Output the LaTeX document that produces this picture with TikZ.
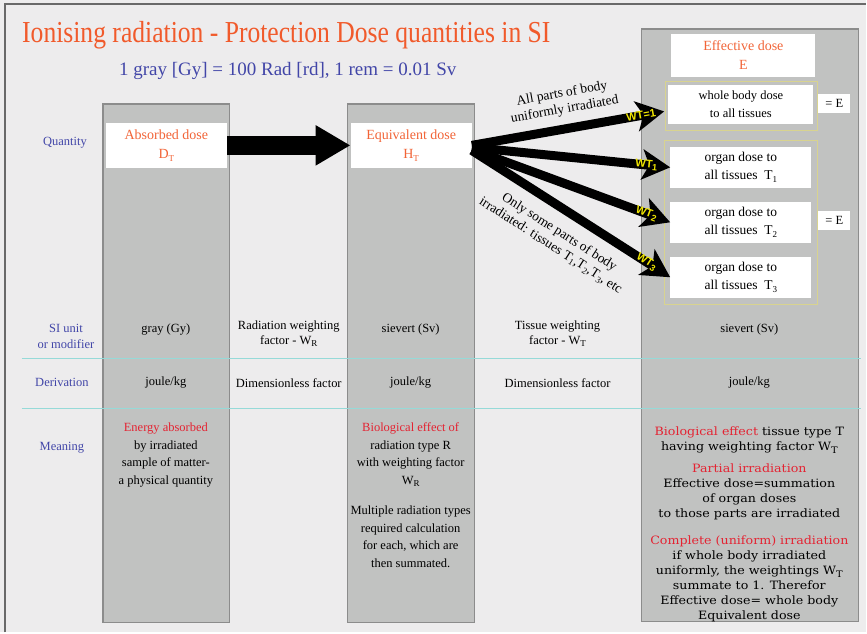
\documentclass[tikz,border=0pt]{standalone}
\usepackage{fontspec}
\setmainfont{Liberation Serif}
\newfontfamily\titlefont{Liberation Serif}[FakeStretch=0.84]
\newfontfamily\widefont{DejaVu Serif}[FakeStretch=1.1]
\newfontfamily\wtfont{Liberation Sans}
\usepackage{xcolor}
\usetikzlibrary{arrows.meta, positioning, calc}

\definecolor{pagebg}{RGB}{237,236,237}
\definecolor{framegray}{RGB}{105,105,105}
\definecolor{colfill}{RGB}{193,194,193}
\definecolor{colline}{RGB}{140,140,140}
\definecolor{titleorange}{RGB}{241,90,43}
\definecolor{boxorange}{RGB}{242,100,55}
\definecolor{labelblue}{RGB}{66,70,168}
\definecolor{textred}{RGB}{228,35,50}
\definecolor{rulecyan}{RGB}{150,218,216}
\definecolor{frameyellow}{RGB}{216,211,143}
\definecolor{wtyellow}{RGB}{240,230,0}

\newcommand{\lowsub}[1]{\raisebox{-0.45ex}{\small #1}}

\begin{document}
\begin{tikzpicture}[x=1pt,y=-1pt,
	column/.style={draw=colline,fill=colfill,line width=1.2pt},
	qbox/.style={rectangle,fill=white,align=center,inner sep=0pt,minimum width=121pt,
		minimum height=45pt,text=boxorange,font=\fontsize{14}{19}\selectfont},
	obox/.style={rectangle,fill=white,align=center,inner sep=0pt,minimum width=141pt,
		minimum height=41pt,font=\fontsize{13.5}{18}\selectfont},
	eqbox/.style={rectangle,fill=white,inner sep=0pt,minimum width=32pt,
		minimum height=19pt,font=\fontsize{12.5}{14}\selectfont},
	yframe/.style={draw=frameyellow,line width=1pt},
	rowlabel/.style={align=center,text=labelblue,font=\fontsize{12.5}{16}\selectfont},
	cell/.style={align=center,font=\fontsize{12.5}{15}\selectfont},
	meaning/.style={align=center,anchor=north,font=\fontsize{12.5}{17.5}\selectfont},
	bigarrow/.style={line width=19pt,-{Triangle[length=35pt,width=38pt]}},
	fanarrow/.style={line width=9pt,-{Stealth[length=28pt,width=30pt,inset=7pt]}},
	fanlabel/.style={sloped,align=center,font=\fontsize{13.5}{16}\selectfont},
	wt/.style={pos=0.88,sloped,text=wtyellow,inner sep=0pt,
		font=\wtfont\bfseries\fontsize{11}{11}\selectfont},
	]
	% page and frame
	\fill[pagebg] (0,0) rectangle (867,633);
	\draw[framegray,line width=1.5pt] (5,633) -- (5,4) -- (867,4);
	
	% headings
	\node[anchor=base west,inner sep=0pt,text=titleorange,font=\titlefont\fontsize{30.5}{32}\selectfont]
	(title) at (22,43) {Ionising radiation - Protection Dose quantities in SI};
	\node[anchor=base,inner sep=0pt,text=labelblue,font=\fontsize{19}{21}\selectfont]
	(units) at (288,76) {1 gray [Gy] = 100 Rad [rd], 1 rem = 0.01 Sv};
	
	% columns
	\draw[column] (103,104) rectangle (230,623);
	\draw[column] (348,104) rectangle (475,623);
	\draw[column] (642,29) rectangle (859,622);
	
	% row labels
	\node[rowlabel] (quantity) at (65,143) {Quantity};
	\node[rowlabel] (siunit) at (66,337) {SI unit\\or modifier};
	\node[rowlabel] (derivation) at (62,383) {Derivation};
	\node[rowlabel] (meaningrow) at (62,448) {Meaning};
	
	% quantity boxes
	\node[qbox] (absorbed) at (166.5,145.5) {Absorbed dose\\D\lowsub{T}};
	\node[qbox] (equivalent) at (411.5,145.5) {Equivalent dose\\H\lowsub{T}};
	\node[qbox,minimum width=144pt,minimum height=43pt] (effective) at (744,55.5) {Effective dose\\E};
	
	% tissue boxes
	\draw[yframe] (666,82) rectangle (818,131);
	\draw[yframe] (665,141) rectangle (818,305);
	\node[obox,minimum width=145pt,minimum height=39pt,font=\fontsize{12.5}{18}\selectfont]
	(wholebody) at (741.5,104.5) {whole body dose\\to all tissues};
	\node[obox] (organA) at (741.5,167.5) {organ dose to\\all tissues\enspace T\lowsub{1}};
	\node[obox] (organB) at (741.5,222.5) {organ dose to\\all tissues\enspace T\lowsub{2}};
	\node[obox] (organC) at (741.5,277.5) {organ dose to\\all tissues\enspace T\lowsub{3}};
	\node[eqbox] (eqA) at (835,104) {= E};
	\node[eqbox] (eqB) at (835,221) {= E};
	
	% separating rules
	\draw[rulecyan,line width=1.5pt] (22,359) -- (862,359);
	\draw[rulecyan,line width=1.5pt] (22,409) -- (862,409);
	
	% SI unit row
	\node[cell] (siA) at (166,330) {gray (Gy)};
	\node[cell] (siR) at (289,334) {Radiation weighting\\factor - W\lowsub{R}};
	\node[cell] (siB) at (411,330) {sievert (Sv)};
	\node[cell] (siT) at (558,334) {Tissue weighting\\factor - W\lowsub{T}};
	\node[cell] (siC) at (750,330) {sievert (Sv)};
	
	% derivation row
	\node[cell] (dA) at (166,383) {joule/kg};
	\node[cell] (dR) at (289,383) {Dimensionless factor};
	\node[cell] (dB) at (411,383) {joule/kg};
	\node[cell] (dT) at (558,383) {Dimensionless factor};
	\node[cell] (dC) at (750,383) {joule/kg};
	
	% meaning row
	\node[meaning] (mA) at (166,420)
	{{\color{textred}Energy absorbed}\\by irradiated\\sample of matter-\\a physical quantity};
	\node[meaning] (mB) at (411,420)
	{{\color{textred}Biological effect of}\\radiation type R\\with weighting factor\\W\lowsub{R}\\[13pt]
		Multiple radiation types\\required calculation\\for each, which are\\then summated.};
	\node[meaning,font=\widefont\fontsize{11.5}{15}\selectfont] (mC) at (750,424)
	{{\color{textred}Biological effect} tissue type T\\having weighting factor W\lowsub{T}\\[7pt]
		{\color{textred}Partial irradiation}\\Effective dose=summation\\of organ doses\\to those parts are irradiated\\[12pt]
		{\color{textred}Complete (uniform) irradiation}\\if whole body irradiated\\uniformly, the weightings W\lowsub{T}\\
		summate to 1. Therefor\\Effective dose= whole body\\Equivalent dose};
	
	% arrows
	\draw[bigarrow] (absorbed) -- (equivalent);
	\draw[fanarrow] (equivalent.east) -- node[fanlabel,above=5pt] {All parts of body\\uniformly irradiated}
	node[wt] {WT=1} ([xshift=-4pt,yshift=-7pt]wholebody.west);
	\draw[fanarrow] ([yshift=-2pt]equivalent.east) -- node[wt] {WT\lowsub{1}} (organA.west);
	\draw[fanarrow] ([yshift=-4pt]equivalent.east) -- node[wt] {WT\lowsub{2}} (organB.west);
	\draw[fanarrow] ([yshift=-5pt]equivalent.east) -- node[fanlabel,below=8pt]
	{Only some parts of body\\irradiated: tissues T\lowsub{1},T\lowsub{2},T\lowsub{3}, etc}
	node[wt] {WT\lowsub{3}} (organC.west);
\end{tikzpicture}
\end{document}
